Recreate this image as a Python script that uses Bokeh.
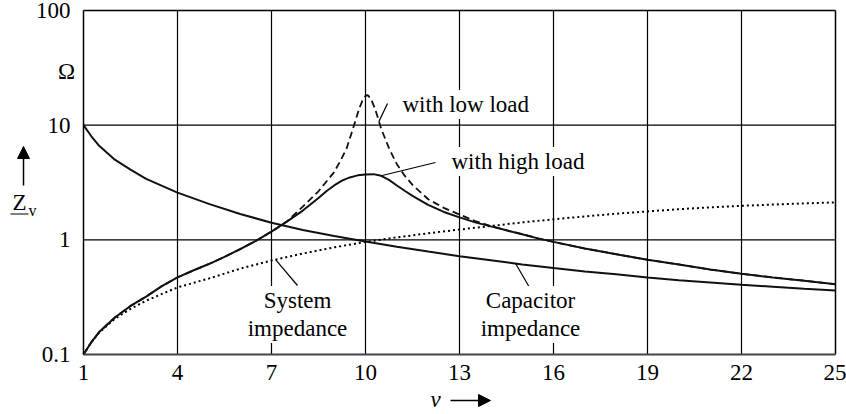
import numpy as np
from bokeh.plotting import figure
from bokeh.models import Label, Arrow, NormalHead
from bokeh.embed import file_html
from bokeh.resources import INLINE

# ---------------- data ----------------
x_ticks = [1, 4, 7, 10, 13, 16, 19, 22, 25]
y_ticks = [0.1, 1, 10, 100]
y_tick_labels = ["0.1", "1", "10", "100"]

# capacitor impedance (solid, falling)
nu_cap = [1, 1.25, 1.5, 2, 2.5, 3, 4, 5, 6, 7, 8, 9, 10, 11, 12, 13, 14, 15, 16,
          17, 18, 19, 20, 21, 22, 23, 24, 25]
z_cap = [10, 8.0, 6.6, 5.0, 4.1, 3.4, 2.58, 2.06, 1.68, 1.41, 1.22, 1.08, 0.965,
         0.87, 0.79, 0.72, 0.665, 0.61, 0.567, 0.53, 0.50, 0.47, 0.445, 0.425,
         0.405, 0.39, 0.375, 0.362]

# system impedance (dotted, rising)
nu_sys = [1, 1.25, 1.5, 2, 2.5, 3, 4, 5, 6, 7, 8, 9, 10, 11, 12, 13, 14, 15, 16,
          17, 18, 19, 20, 21, 22, 23, 24, 25]
z_sys = [0.1, 0.128, 0.155, 0.205, 0.25, 0.295, 0.385, 0.46, 0.56, 0.66, 0.76,
         0.86, 0.96, 1.05, 1.14, 1.23, 1.32, 1.42, 1.51, 1.60, 1.69, 1.77, 1.85,
         1.92, 1.98, 2.03, 2.08, 2.12]

# with high load (solid, resonance)
nu_high = [1, 1.25, 1.5, 2, 2.5, 3, 3.5, 4, 4.5, 5, 5.5, 6, 6.5, 7, 7.5, 8, 8.5,
           8.75, 9, 9.25, 9.5, 9.75, 10, 10.25, 10.5, 10.75, 11, 11.25, 11.5, 12,
           12.5, 13, 13.5, 14, 14.5, 15, 15.5, 16, 17, 18, 19, 20, 21, 22, 23,
           24, 25]
z_high = [0.1, 0.128, 0.157, 0.21, 0.265, 0.32, 0.395, 0.47, 0.54, 0.615, 0.71,
          0.83, 0.98, 1.18, 1.45, 1.8, 2.32, 2.65, 2.98, 3.28, 3.5, 3.65, 3.72,
          3.74, 3.62, 3.33, 2.98, 2.68, 2.42, 2.02, 1.75, 1.57, 1.42, 1.31,
          1.21, 1.12, 1.03, 0.96, 0.84, 0.75, 0.67, 0.61, 0.55, 0.506, 0.47,
          0.44, 0.41]

# with low load (dashed, sharp resonance)
nu_low = [1, 1.25, 1.5, 2, 2.5, 3, 3.5, 4, 4.5, 5, 5.5, 6, 6.5, 7, 7.5, 8, 8.5,
          9, 9.2, 9.4, 9.6, 9.8, 9.9, 10, 10.05, 10.1, 10.2, 10.3, 10.4, 10.5,
          10.75, 11, 11.25, 11.5, 12, 12.5, 13, 13.5, 14, 14.5, 15, 15.5, 16, 17,
          18, 19, 20, 21, 22, 23, 24, 25]
z_low = [0.1, 0.128, 0.157, 0.21, 0.265, 0.32, 0.395, 0.47, 0.54, 0.615, 0.71,
         0.83, 0.98, 1.18, 1.45, 1.95, 2.65, 3.9, 4.9, 6.3, 9.3, 14.0, 16.3, 18.0,
         18.3, 18.0, 16.3, 14.0, 11.5, 9.3, 6.3, 4.57, 3.63, 3.02, 2.26, 1.9,
         1.66, 1.46, 1.32, 1.21, 1.12, 1.03, 0.96, 0.84, 0.75, 0.67, 0.61, 0.55,
         0.506, 0.47, 0.44, 0.41]

FONT = "Liberation Serif"
FS = "23px"

# placement of the chart box in page pixels
W, H = 846, 414
B_LEFT, B_RIGHT, B_TOP, B_BOTTOM = 83, 835, 10, 354
X0, X1 = x_ticks[0], x_ticks[-1]
Y0, Y1 = y_ticks[0], y_ticks[-1]
KX = (X1 - X0) / (B_RIGHT - B_LEFT)                               # nu per px
KY = (np.log10(Y1) - np.log10(Y0)) / (B_BOTTOM - B_TOP)           # decades per px


def px_to_nu(px):
    return X0 + (px - B_LEFT) * KX


def py_to_z(py):
    return 10 ** (np.log10(Y0) + (B_BOTTOM - py) * KY)


def on_curve(nu, xs, zs):
    return 10 ** np.interp(nu, xs, np.log10(zs))


# the frame covers the whole canvas; the chart box is drawn inside it
p = figure(width=W, height=H, x_range=(px_to_nu(0), px_to_nu(W)),
           y_range=(py_to_z(H), py_to_z(0)), y_axis_type="log",
           output_backend="svg", toolbar_location=None,
           min_border_left=0, min_border_right=0, min_border_top=0,
           min_border_bottom=0)
p.background_fill_color = "white"
p.border_fill_color = "white"
p.outline_line_color = None
p.xgrid.visible = False
p.ygrid.visible = False

p.xaxis.ticker = x_ticks
p.yaxis.ticker = y_ticks
p.yaxis.major_label_overrides = {t: s for t, s in zip(y_ticks, y_tick_labels)}
p.xaxis.fixed_location = Y0
p.yaxis.fixed_location = X0
p.xaxis.bounds = (X0, X1)
p.yaxis.bounds = (Y0, Y1)
for ax in (p.xaxis, p.yaxis):
    ax.major_tick_line_color = None
    ax.minor_tick_line_color = None
    ax.major_label_text_font = FONT
    ax.major_label_text_font_size = FS
    ax.major_label_text_color = "black"
p.xaxis.axis_line_color = "#444444"
p.xaxis.axis_line_width = 2
p.yaxis.axis_line_color = "black"
p.yaxis.axis_line_width = 1.5
p.xaxis.major_label_standoff = 4
p.yaxis.major_label_standoff = 7

# grid lines at the inner ticks, and the top / right edges of the box
p.segment(x0=x_ticks[1:-1], y0=Y0, x1=x_ticks[1:-1], y1=Y1,
          line_color="black", line_width=1.2)
p.segment(x0=X0, y0=y_ticks[1:-1], x1=X1, y1=y_ticks[1:-1],
          line_color="black", line_width=1.2)
p.segment(x0=[X0, X1], y0=[Y1, Y0], x1=[X1, X1], y1=[Y1, Y1],
          line_color="black", line_width=1.5)

# curves
p.line(nu_sys, z_sys, line_color="black", line_width=2, line_dash="2 3")
p.line(nu_cap, z_cap, line_color="#111111", line_width=2)
p.line(nu_low, z_low, line_color="#111111", line_width=1.8, line_dash="7 4")
p.line(nu_high, z_high, line_color="#111111", line_width=2)

# leader lines (start on curves)
lead_nu0 = [10.43, 10.5, 7.13, 14.79]
lead_curves = [(nu_low, z_low), (nu_high, z_high), (nu_sys, z_sys), (nu_cap, z_cap)]
lead_y0 = [on_curve(n, c[0], c[1]) for n, c in zip(lead_nu0, lead_curves)]
lead_x1 = [px_to_nu(387), px_to_nu(435), px_to_nu(297), px_to_nu(529)]
lead_y1 = [py_to_z(103), py_to_z(162), py_to_z(285), py_to_z(287)]
p.segment(x0=lead_nu0, y0=lead_y0, x1=lead_x1, y1=lead_y1,
          line_color="black", line_width=1.2)


def add_label(text, px, py, align="center", size=FS, style="normal", bg=True):
    lab = Label(x=px_to_nu(px), y=py_to_z(py), text=text, text_font=FONT,
                text_font_size=size, text_font_style=style, text_align=align,
                text_baseline="middle", text_color="black")
    if bg:
        lab.background_fill_color = "white"
        lab.padding = 2
    p.add_layout(lab)


add_label("with low load", 400, 104, align="left")
add_label("with high load", 449, 161, align="left")
add_label("System", 297, 300)
add_label("impedance", 297, 328)
add_label("Capacitor", 530, 300)
add_label("impedance", 530, 328)

# axis titles: Ω, arrow + underlined Z with subscript v, italic ν + arrow
add_label("Ω", 66, 71, bg=False)
add_label("Z", 19, 202, bg=False)
add_label("v", 32, 210, size="16px", bg=False)
p.segment(x0=[px_to_nu(10)], y0=[py_to_z(213.5)], x1=[px_to_nu(28)],
          y1=[py_to_z(213.5)], line_color="black", line_width=1.2)
p.add_layout(Arrow(x_start=px_to_nu(23), y_start=py_to_z(185),
                   x_end=px_to_nu(23), y_end=py_to_z(146),
                   end=NormalHead(size=12, fill_color="black", line_color="black"),
                   line_color="black", line_width=1.5))
add_label("ν", 435, 399, style="italic", bg=False)
p.add_layout(Arrow(x_start=px_to_nu(450), y_start=py_to_z(400),
                   x_end=px_to_nu(490), y_end=py_to_z(400),
                   end=NormalHead(size=12, fill_color="black", line_color="black"),
                   line_color="black", line_width=1.5))

open("out.html", "w").write(file_html(p, INLINE))
